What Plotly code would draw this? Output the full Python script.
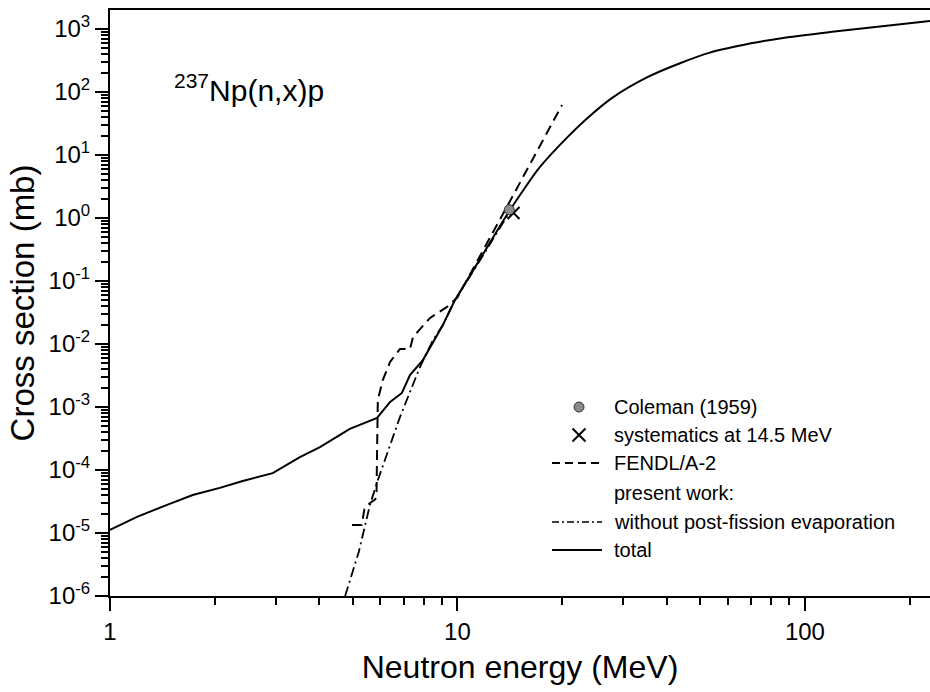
import plotly.graph_objects as go

# ---------------- data ----------------
# total (present work) – low-energy part (kinked) and high-energy part (smooth)
total_low_E = [1.0, 1.196, 1.46, 1.73, 2.07, 2.41, 2.94, 3.52, 4.02, 4.9, 5.87, 6.4, 6.92,
               7.3, 7.96, 8.5, 9.08, 9.84]
total_low_xs = [1.12e-5, 1.8e-5, 2.8e-5, 4.0e-5, 5.2e-5, 6.7e-5, 8.9e-5, 1.6e-4, 2.3e-4,
                4.5e-4, 6.7e-4, 1.2e-3, 1.67e-3, 3.2e-3, 5.6e-3, 0.0107, 0.02, 0.05]
total_high_E = [9.84, 11.6, 13.7, 15.5, 17.3, 20.7, 23.6, 28.0, 35.1, 43.7, 53.3, 70.0,
                86.5, 118.0, 229.0]
total_high_xs = [0.05, 0.22, 1.0, 2.8, 6.5, 19.0, 38.0, 82.0, 170.0, 285.0, 420.0, 590.0,
                 719.0, 891.0, 1340.0]

nopf_E = [4.75, 5.2, 5.6, 5.9, 6.83, 7.8, 8.5, 9.08, 9.84, 11.6, 14.0]
nopf_xs = [1e-6, 5e-6, 2.8e-5, 6.9e-5, 6.9e-4, 4.3e-3, 0.0115, 0.02, 0.05, 0.21, 1.15]

fendl_E = [4.97, 5.3, 5.4, 5.6, 5.8, 5.85, 5.87, 5.9, 6.1, 6.4, 6.83, 7.3, 7.45, 8.34,
           9.33, 10.0, 14.2, 20.0]
fendl_xs = [1.34e-5, 1.34e-5, 2.4e-5, 3.0e-5, 3.4e-5, 4.5e-5, 2.0e-4, 1.3e-3, 2.7e-3,
            5.2e-3, 8.3e-3, 8.3e-3, 1.29e-2, 0.0259, 0.0387, 0.055, 1.9, 62.0]

coleman_E = [14.1]
coleman_xs = [1.35]
syst_E = [14.5]
syst_xs = [1.2]

ytick_vals = [1e-6, 1e-5, 1e-4, 1e-3, 1e-2, 1e-1, 1e0, 1e1, 1e2, 1e3]
ytick_text = ["10<sup>-6</sup>", "10<sup>-5</sup>", "10<sup>-4</sup>", "10<sup>-3</sup>",
              "10<sup>-2</sup>", "10<sup>-1</sup>", "10<sup>0</sup>", "10<sup>1</sup>",
              "10<sup>2</sup>", "10<sup>3</sup>"]
xtick_vals = [1, 10, 100]
xtick_text = ["1", "10", "100"]
minor_x = [m * 10 ** d for d in range(0, 3) for m in range(2, 10)]
minor_y = [m * 10.0 ** d for d in range(-6, 4) for m in range(2, 10)]

legend_labels = ["Coleman (1959)", "systematics at 14.5 MeV", "FENDL/A-2",
                 "present work:", "without post-fission evaporation", "total"]

# ---------------- styling ----------------
FONT = "Liberation Sans, Arial, Helvetica, sans-serif"
DASH = "10px,6px"
DASHDOT = "10px,4px,2px,4px"
X_RANGE = [0, 2.36]
Y_RANGE = [-6, 3.3]

fig = go.Figure()

fig.add_trace(go.Scatter(x=total_low_E, y=total_low_xs, mode="lines",
                         line=dict(color="black", width=2), showlegend=False))
fig.add_trace(go.Scatter(x=total_high_E, y=total_high_xs, mode="lines",
                         line=dict(color="black", width=2, shape="spline", smoothing=0.8),
                         showlegend=False))
fig.add_trace(go.Scatter(x=nopf_E, y=nopf_xs, mode="lines",
                         line=dict(color="black", width=1.8, dash=DASHDOT), showlegend=False))
fig.add_trace(go.Scatter(x=fendl_E, y=fendl_xs, mode="lines",
                         line=dict(color="black", width=2, dash=DASH), showlegend=False))
fig.add_trace(go.Scatter(x=syst_E, y=syst_xs, mode="markers",
                         marker=dict(symbol="x-thin", size=12, line=dict(color="black", width=2)),
                         showlegend=False))
fig.add_trace(go.Scatter(x=coleman_E, y=coleman_xs, mode="markers",
                         marker=dict(symbol="circle", size=10, color="#8a8a8a",
                                     line=dict(color="#333333", width=1)),
                         showlegend=False))

# invisible anchors so the minor-tick overlay axes are drawn
fig.add_trace(go.Scatter(x=total_low_E[:1], y=total_low_xs[:1], xaxis="x3", yaxis="y",
                         mode="markers", marker=dict(opacity=0), hoverinfo="skip",
                         showlegend=False))
fig.add_trace(go.Scatter(x=total_low_E[:1], y=total_low_xs[:1], xaxis="x", yaxis="y3",
                         mode="markers", marker=dict(opacity=0), hoverinfo="skip",
                         showlegend=False))

# ---------------- hand-made legend on an overlay pixel-like axis ----------------
L_LINE_X0, L_LINE_X1, L_SYM_X, L_TEXT_X = 552, 602, 579, 612
L_ROWS = [407, 435, 463, 493, 522, 550]

fig.add_trace(go.Scatter(x=[L_SYM_X], y=[L_ROWS[0]], xaxis="x2", yaxis="y2", mode="markers",
                         marker=dict(symbol="circle", size=10, color="#8a8a8a",
                                     line=dict(color="#333333", width=1)), showlegend=False))
fig.add_trace(go.Scatter(x=[L_SYM_X], y=[L_ROWS[1]], xaxis="x2", yaxis="y2", mode="markers",
                         marker=dict(symbol="x-thin", size=13, line=dict(color="black", width=2)),
                         showlegend=False))
fig.add_trace(go.Scatter(x=[L_LINE_X0, L_LINE_X1], y=[L_ROWS[2]] * 2, xaxis="x2", yaxis="y2",
                         mode="lines", line=dict(color="black", width=2, dash="8px,5px"),
                         showlegend=False))
fig.add_trace(go.Scatter(x=[L_LINE_X0, L_LINE_X1], y=[L_ROWS[4]] * 2, xaxis="x2", yaxis="y2",
                         mode="lines", line=dict(color="black", width=1.5, dash="7px,3px,2px,3px"),
                         showlegend=False))
fig.add_trace(go.Scatter(x=[L_LINE_X0, L_LINE_X1], y=[L_ROWS[5]] * 2, xaxis="x2", yaxis="y2",
                         mode="lines", line=dict(color="black", width=2), showlegend=False))

annotations = []
for lab, row in zip(legend_labels, L_ROWS):
    annotations.append(dict(x=L_TEXT_X, y=row, xref="x2", yref="y2", text=lab,
                            showarrow=False, xanchor="left", yanchor="middle",
                            font=dict(family=FONT, size=20, color="black")))

annotations.append(dict(x=172, y=88, xref="x2", yref="y2",
                        text="<sup>237</sup>Np(n,x)p", showarrow=False,
                        xanchor="left", yanchor="middle",
                        font=dict(family=FONT, size=30, color="black")))

fig.update_layout(
    width=930, height=692,
    margin=dict(l=110, r=0, t=10, b=96),
    plot_bgcolor="white", paper_bgcolor="white",
    showlegend=False,
    font=dict(family=FONT, color="black"),
    annotations=annotations,
    xaxis=dict(type="log", range=X_RANGE, showgrid=False, zeroline=False,
               showline=True, linecolor="black", linewidth=2, mirror=True,
               ticks="outside", ticklen=13, tickwidth=2, tickcolor="black",
               tickmode="array", tickvals=xtick_vals, ticktext=xtick_text,
               tickfont=dict(family=FONT, size=24),
               title=dict(text="Neutron energy (MeV)", font=dict(family=FONT, size=32),
                          standoff=12)),
    yaxis=dict(type="log", range=Y_RANGE, showgrid=False, zeroline=False,
               showline=True, linecolor="black", linewidth=2, mirror=False,
               ticks="outside", ticklen=13, tickwidth=2, tickcolor="black",
               tickmode="array", tickvals=ytick_vals, ticktext=ytick_text,
               tickfont=dict(family=FONT, size=24),
               title=dict(text="Cross section (mb)", font=dict(family=FONT, size=33),
                          standoff=4)),
    xaxis3=dict(type="log", range=X_RANGE, overlaying="x", anchor="y", side="bottom",
                showgrid=False, zeroline=False, showline=False, showticklabels=False,
                ticks="outside", ticklen=8, tickwidth=1.5, tickcolor="black",
                tickmode="array", tickvals=minor_x),
    yaxis3=dict(type="log", range=Y_RANGE, overlaying="y", anchor="x", side="left",
                showgrid=False, zeroline=False, showline=False, showticklabels=False,
                ticks="outside", ticklen=8, tickwidth=1.5, tickcolor="black",
                tickmode="array", tickvals=minor_y),
    xaxis2=dict(overlaying="x", range=[110, 930], visible=False, anchor="y2"),
    yaxis2=dict(overlaying="y", range=[596, 10], visible=False, anchor="x2"),
)

fig.write_html("out.html")
